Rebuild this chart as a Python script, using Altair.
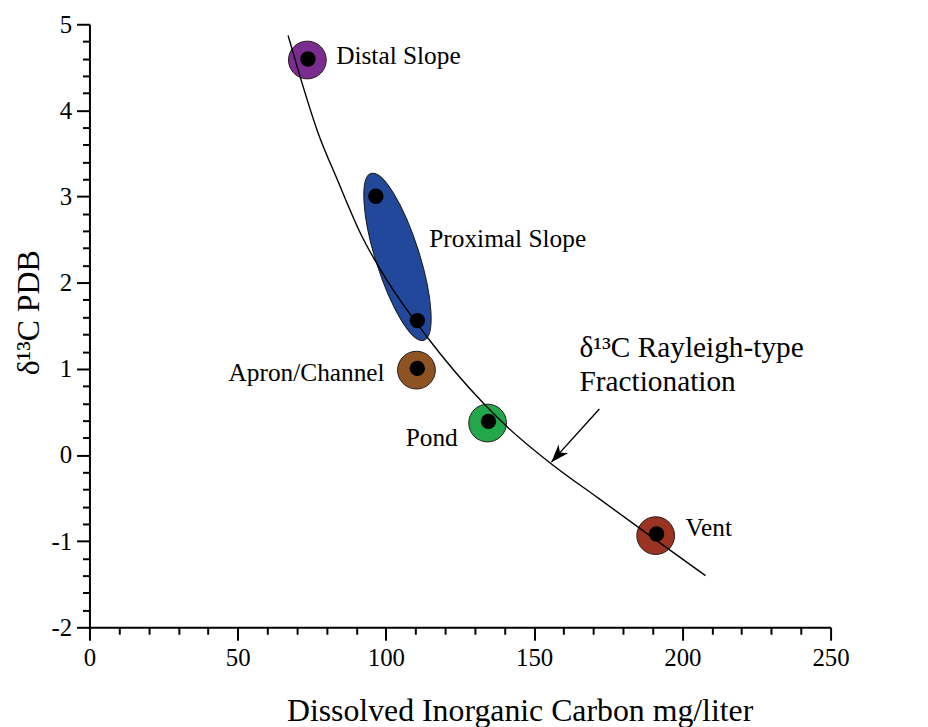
import altair as alt
import pandas as pd

# ---------------- data ----------------
x_ticks = list(range(0, 251, 10))
y_ticks = [round(-2 + 0.2 * i, 1) for i in range(36)]

site_names = ["Distal Slope", "Apron/Channel", "Pond", "Vent"]
site_x = [73.5, 110.3, 134.3, 191.0]
site_y = [4.585, 0.985, 0.371, -0.936]
site_colors = ["#7B2C8F", "#8E5322", "#22A84A", "#9A3322"]

ellipse_name = ["Proximal Slope"]
ellipse_x = [103.9]
ellipse_y = [2.30]
ellipse_color = "#21489A"

dot_x = [73.7, 96.6, 110.6, 110.6, 134.6, 191.3]
dot_y = [4.597, 3.003, 1.56, 1.005, 0.39, -0.917]

curve_x = [67.0, 70.9, 77.0, 83.8, 91.6, 100.5, 113.9, 132.9, 140.8, 155.3, 172.0, 188.8, 207.8]
curve_y = [4.87, 4.41, 3.75, 3.18, 2.56, 2.02, 1.37, 0.60, 0.33, -0.09, -0.51, -0.93, -1.40]

arrow_x = [172.0]
arrow_y = [0.533]
arrow_tip_x = [155.8]
arrow_tip_y = [-0.083]

note_lines = ["δ¹³C Rayleigh-type", "Fractionation"]
note_x = [165.3, 165.3]
note_y = [1.239, 0.841]

# ---------------- tables ----------------
sites = pd.DataFrame({"name": site_names, "x": site_x, "y": site_y, "color": site_colors})
ell = pd.DataFrame({"name": ellipse_name, "x": ellipse_x, "y": ellipse_y})
dots = pd.DataFrame({"x": dot_x, "y": dot_y})
curve = pd.DataFrame({"x": curve_x, "y": curve_y, "order": list(range(len(curve_x)))})
arrow = pd.DataFrame({"x": arrow_x, "y": arrow_y, "x2": arrow_tip_x, "y2": arrow_tip_y})
notes = pd.DataFrame({"text": note_lines, "x": note_x, "y": note_y})

FONT = "Liberation Serif"

xscale = alt.Scale(domain=[0, 250], nice=False, zero=False)
yscale = alt.Scale(domain=[-2, 5], nice=False, zero=False)

major_x = "datum.value % 50 === 0"
major_y = "abs(datum.value - round(datum.value)) < 0.01"

x_axis = alt.Axis(
    values=x_ticks,
    title="Dissolved Inorganic Carbon mg/liter",
    labelExpr=f"{major_x} ? '' + datum.value : ''",
    tickSize={"condition": {"test": major_x, "value": 13}, "value": 7},
    tickWidth=2, tickColor="black", domainWidth=2, domainColor="black",
    grid=False, labelFlush=False, labelOverlap=False,
    labelFont=FONT, labelFontSize=25, labelColor="black", labelPadding=5,
    titleFont=FONT, titleFontSize=32, titleFontWeight="normal", titleColor="black",
    titleX=433, titleY=84, titleAlign="center", titleBaseline="middle",
)
y_axis = alt.Axis(
    values=y_ticks,
    title="δ¹³C PDB",
    labelExpr=f"{major_y} ? '' + round(datum.value) : ''",
    tickSize={"condition": {"test": major_y, "value": 13}, "value": 7},
    tickWidth=2, tickColor="black", domainWidth=2, domainColor="black",
    grid=False, labelFlush=False, labelOverlap=False,
    labelFont=FONT, labelFontSize=25, labelColor="black", labelPadding=5,
    titleFont=FONT, titleFontSize=32, titleFontWeight="normal", titleColor="black",
    titleAngle=270, titleX=-61, titleY=290, titleAlign="center", titleBaseline="middle",
)

X = lambda: alt.X("x:Q", scale=xscale, axis=x_axis)
Y = lambda: alt.Y("y:Q", scale=yscale, axis=y_axis)

ellipse_path = "M0,-1 A0.25,1 0 1,1 0,1 A0.25,1 0 1,1 0,-1 Z"
arrow_path = "M0,0 L0.36,1 L0,0.72 L-0.36,1 Z"

ellipse_layer = alt.Chart(ell).mark_point(
    shape=ellipse_path, size=30976, angle=342.4, filled=True,
    fill=ellipse_color, fillOpacity=1, stroke="#1a1a1a", strokeWidth=1, opacity=1
).encode(x=X(), y=Y())

circle_layer = alt.Chart(sites).mark_point(
    shape="circle", size=1444, filled=True, fillOpacity=1, opacity=1,
    stroke="#2a1a1a", strokeWidth=1
).encode(x=X(), y=Y(), fill=alt.Fill("color:N", scale=None))

curve_layer = alt.Chart(curve).mark_line(
    color="black", strokeWidth=1.4, interpolate="monotone"
).encode(x=X(), y=Y(), order="order:Q")

dot_layer = alt.Chart(dots).mark_point(
    shape="circle", size=240, filled=True, fill="black", fillOpacity=1, opacity=1, strokeWidth=0
).encode(x=X(), y=Y())

arrow_line = alt.Chart(arrow).mark_rule(color="black", strokeWidth=1.4).encode(
    x=X(), y=Y(), x2="x2:Q", y2="y2:Q"
)
arrow_head = alt.Chart(arrow).mark_point(
    shape=arrow_path, size=1296, angle=222.1, filled=True, fill="black",
    fillOpacity=1, opacity=1, strokeWidth=0
).encode(x=alt.X("x2:Q", scale=xscale, axis=x_axis), y=alt.Y("y2:Q", scale=yscale, axis=y_axis))


def site_label(name, dx, dy, align):
    return alt.Chart(sites).transform_filter(alt.datum.name == name).mark_text(
        font=FONT, fontSize=25.5, color="black", align=align, baseline="middle", dx=dx, dy=dy
    ).encode(x=X(), y=Y(), text="name:N")


labels = [
    site_label("Distal Slope", 29, -4, "left"),
    site_label("Apron/Channel", -32, 3, "right"),
    site_label("Pond", -30, 15, "right"),
    site_label("Vent", 30, -8, "left"),
    alt.Chart(ell).mark_text(
        font=FONT, fontSize=25.5, color="black", align="left", baseline="middle", dx=32, dy=-18
    ).encode(x=X(), y=Y(), text="name:N"),
]

note_layer = alt.Chart(notes).mark_text(
    font=FONT, fontSize=29.5, color="black", align="left", baseline="middle"
).encode(x=X(), y=Y(), text="text:N")

chart = alt.layer(
    ellipse_layer, circle_layer, curve_layer, dot_layer, arrow_line, arrow_head,
    *labels, note_layer
).properties(
    width=746, height=607,
    autosize=alt.AutoSizeParams(type="none"),
    padding={"left": 82, "top": 14, "right": 90, "bottom": 98},
).configure(background="white").configure_view(stroke=None, strokeWidth=0)

chart.save("out.html", embed_options={"renderer": "svg", "actions": False})
